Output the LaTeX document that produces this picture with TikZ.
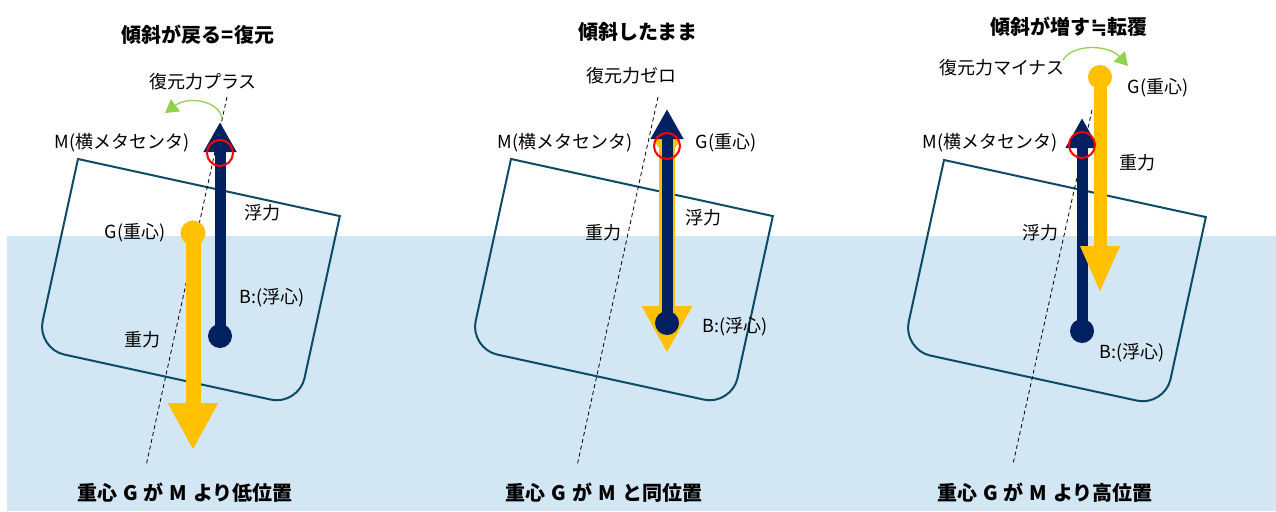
\documentclass[tikz,border=0pt]{standalone}
\usepackage{fontspec}
\setmainfont{Noto Sans CJK JP}
\newfontfamily\dvsans{DejaVu Sans}
\usetikzlibrary{arrows.meta}
\definecolor{navy}{RGB}{0,32,96}
\definecolor{gold}{RGB}{255,192,0}
\definecolor{hullc}{RGB}{12,76,102}
\definecolor{sea}{RGB}{210,230,244}
\definecolor{leaf}{RGB}{146,208,80}
% tilted hull, #1 = top left corner
\newcommand{\hull}[1]{\draw[hull,shift={#1},rotate=-12.3] (0,0) -- (268,0) -- (268,166)
  .. controls (268,181) and (255,194) .. (240,194) -- (28,194)
  .. controls (13,194) and (0,181) .. (0,166) -- cycle;}
\newcommand{\gap}{\hspace{0.3em}}

\begin{document}
\begin{tikzpicture}[x=1pt,y=-1pt,every node/.style={font=\fontsize{18}{20}\selectfont,inner sep=0pt},
  title/.style={font=\fontsize{20}{22}\selectfont\bfseries},
  hull/.style={hullc,line width=2pt},
  axis/.style={black,line width=0.8pt,dash pattern=on 4pt off 3pt},
  buoy/.style={navy,line width=11pt,-{Triangle[width=31pt,length=30pt]}},
  weight/.style={gold,line width=15pt,-{Triangle[width=47pt,length=47pt]}},
  turn/.style={leaf,line width=1.3pt,-{Triangle[width=15pt,length=13pt]}},
  meta/.style={red,line width=2pt}]
  \useasboundingbox (0,0) rectangle (1276,511);
  \fill[sea] (7,236) rectangle (1276,511);

  % left: G below M
  \hull{(78,159)}
  \coordinate (top1) at (227,97); \coordinate (bot1) at (146,466);
  \draw[axis] (top1) -- (bot1);
  \coordinate (G1) at (193,233); \coordinate (W1) at (193,450);
  \coordinate (B1) at (220,336); \coordinate (U1) at (220,122);
  \coordinate (M1) at (220,153);
  \draw[weight] (G1) -- (W1);
  \fill[gold] (G1) circle (12.5);
  \draw[buoy] (B1) -- (U1);
  \fill[navy] (B1) circle (12);
  \draw[meta] (M1) circle (13);
  \coordinate (s1) at (222,118); \coordinate (e1) at (165,113);
  \draw[turn] (s1) .. controls (218,100) and (188,96) .. (e1);
  \node[title] (t1) at (198,35) {傾斜が戻る=復元};
  \node (r1) at (203,82) {復元力プラス};
  \node (m1) at (122,143) {M(横メタセンタ)};
  \node (f1) at (262,213) {浮力};
  \node (g1) at (135,233) {G(重心)};
  \node (b1) at (272,298) {B:(浮心)};
  \node (w1) at (142,340) {重力};
  \node[title] (c1) at (185,493) {重心\gap G\gap が\gap M\gap より低位置};

  % middle: G at M
  \hull{(511,159)}
  \coordinate (top2) at (658,97); \coordinate (bot2) at (577,466);
  \draw[axis] (top2) -- (bot2);
  \coordinate (G2) at (667,138); \coordinate (W2) at (667,353);
  \coordinate (B2) at (667,323); \coordinate (U2) at (667,109);
  \coordinate (M2) at (667,146);
  \fill[gold] (G2) circle (12.5);
  \draw[weight,line width=16pt] (G2) -- (W2);
  \draw[buoy] (B2) -- (U2);
  \fill[navy] (B2) circle (12);
  \draw[meta] (M2) circle (13);
  \node[title] (t2) at (638,32) {傾斜したまま};
  \node (r2) at (631,76) {復元力ゼロ};
  \node (m2) at (565,143) {M(横メタセンタ)};
  \node (g2) at (726,143) {G(重心)};
  \node (f2) at (703,218) {浮力};
  \node (w2) at (603,233) {重力};
  \node (b2) at (735,327) {B:(浮心)};
  \node[title] (c2) at (604,493) {重心\gap G\gap が\gap M\gap と同位置};

  % right: G above M
  \hull{(944,160)}
  \coordinate (top3) at (1092,110); \coordinate (bot3) at (1013,464);
  \draw[axis] (top3) -- (bot3);
  \coordinate (G3) at (1100,77); \coordinate (W3) at (1100,293);
  \coordinate (B3) at (1082,331); \coordinate (U3) at (1082,118);
  \coordinate (M3) at (1082,145);
  \draw[buoy] (B3) -- (U3);
  \fill[navy] (B3) circle (12);
  \draw[gold,line width=13pt,-{Triangle[width=36pt,length=47pt]}] (G3) -- (W3);
  \fill[gold] (G3) circle (12);
  \draw[meta] (M3) circle (13);
  \coordinate (s3) at (1063,60); \coordinate (e3) at (1128,66);
  \draw[turn] (s3) .. controls (1072,44) and (1108,44) .. (e3);
  \node[title] (t3) at (1069,27) {傾斜が増す{\dvsans\bfseries ≒}転覆};
  \node (r3) at (1002,68) {復元力マイナス};
  \node (g3) at (1158,88) {G(重心)};
  \node (m3) at (990,143) {M(横メタセンタ)};
  \node (w3) at (1137,163) {重力};
  \node (f3) at (1040,233) {浮力};
  \node (b3) at (1132,353) {B:(浮心)};
  \node[title] (c3) at (1045,493) {重心\gap G\gap が\gap M\gap より高位置};
\end{tikzpicture}
\end{document}
